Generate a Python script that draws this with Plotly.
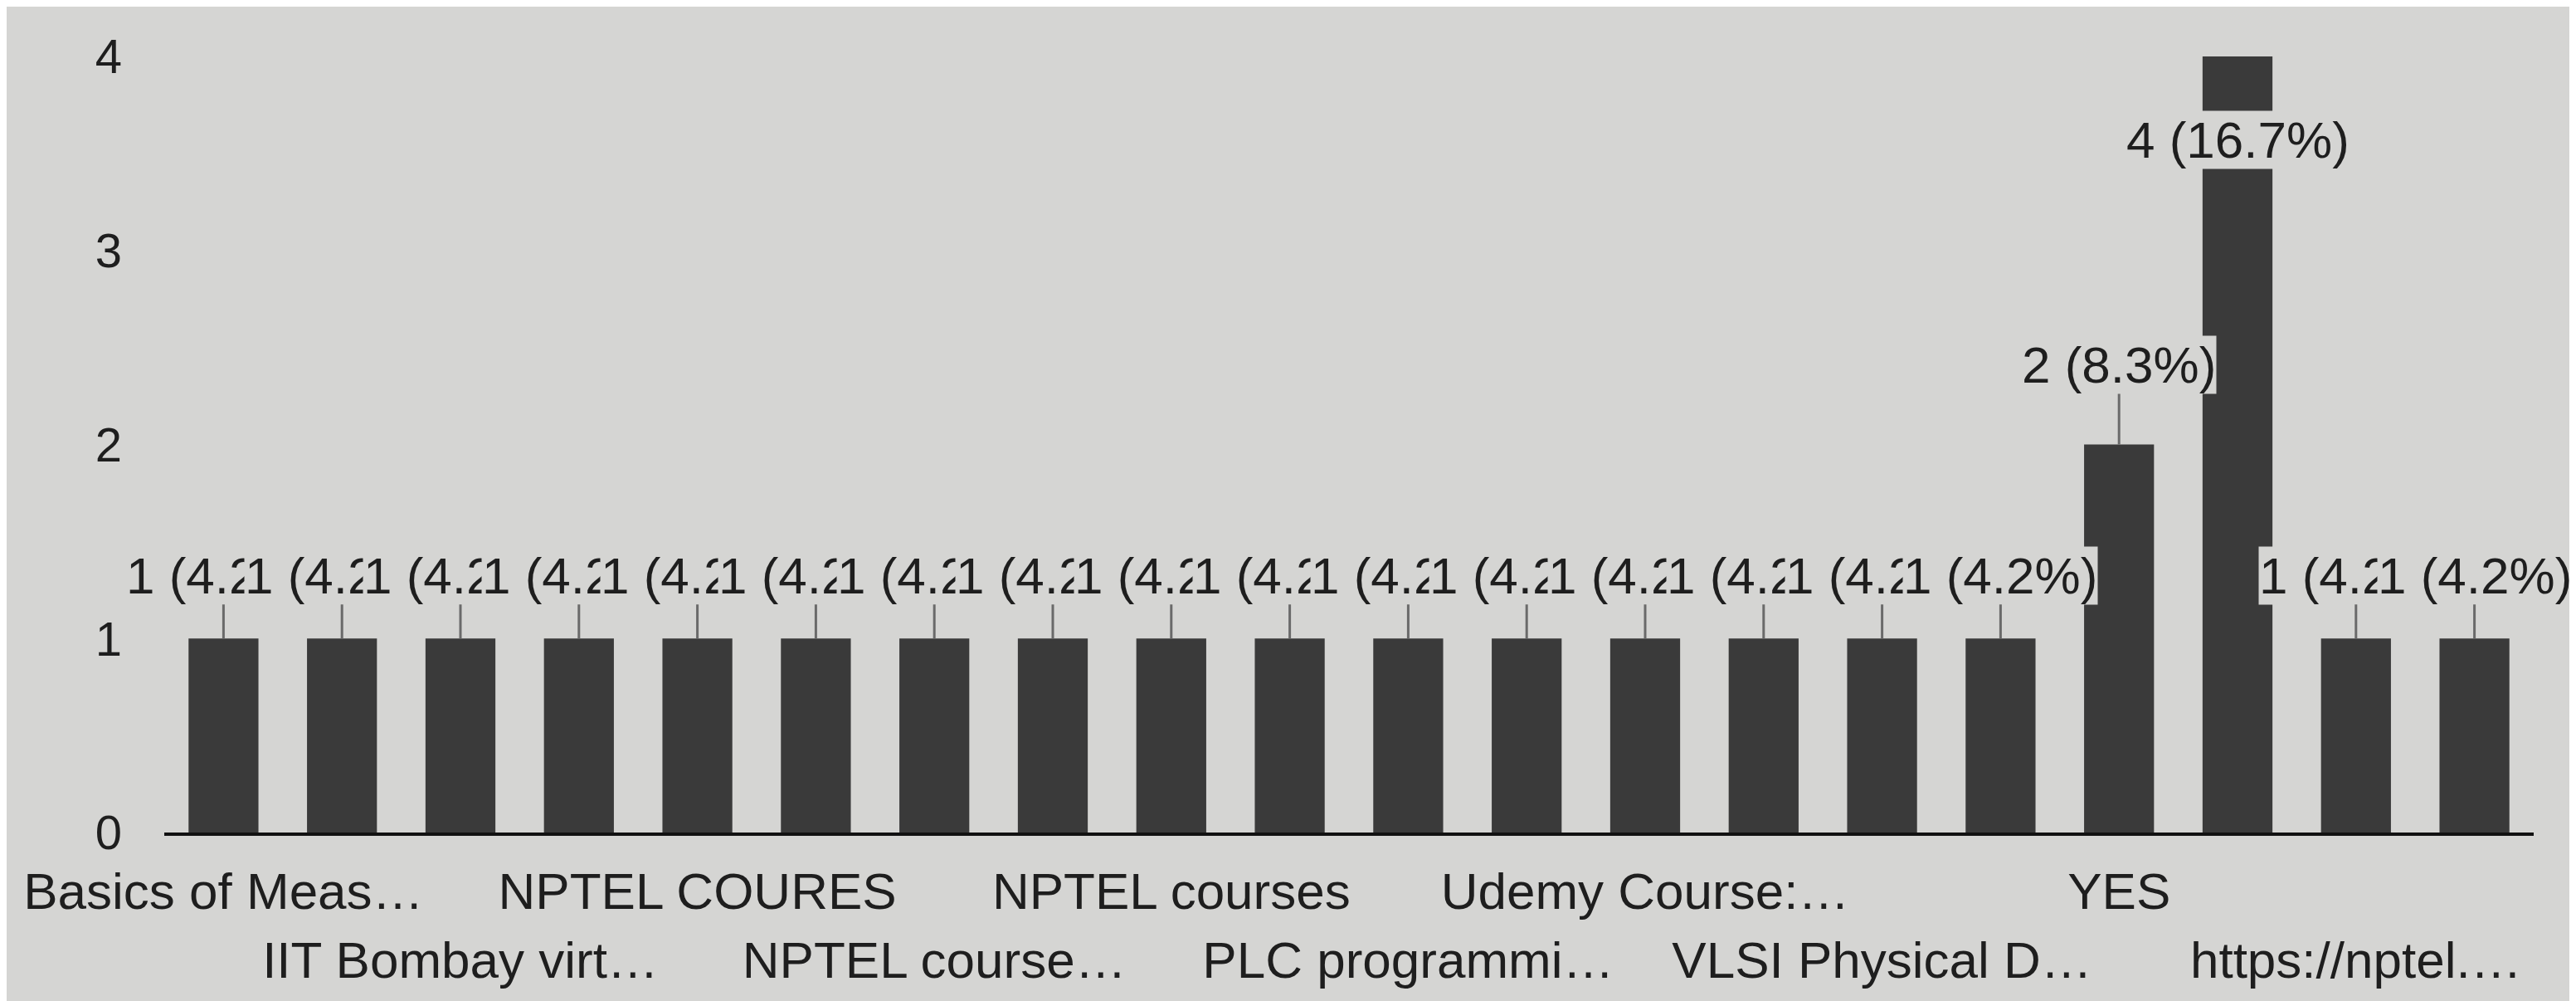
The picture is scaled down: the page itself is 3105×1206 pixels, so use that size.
import plotly.graph_objects as go

categories = [
    "Basics of Meas…", "Coursera", "IIT Bombay virt…", "Internshala",
    "NPTEL COURES", "NPTEL Course", "NPTEL course…", "NPTEL course.",
    "NPTEL courses", "Online course", "PLC programmi…", "Swayam",
    "Udemy Course:…", "Udemy course", "VLSI Physical D…", "VLSI course",
    "YES", "coursera", "https://nptel.…", "nptel",
]
counts = [1, 1, 1, 1, 1, 1, 1, 1, 1, 1, 1, 1, 1, 1, 1, 1, 2, 4, 1, 1]
shown_row1 = ["Basics of Meas…", "NPTEL COURES", "NPTEL courses", "Udemy Course:…", "YES"]
shown_row2 = ["IIT Bombay virt…", "NPTEL course…", "PLC programmi…", "VLSI Physical D…", "https://nptel.…"]
y_ticks = [0, 1, 2, 3, 4]

BG = "#d5d5d3"
BAR = "#3a3a3a"
TXT = "#1e1e1e"
FONT = "Liberation Sans, Arial, sans-serif"
FS = 62

total = sum(counts)
labels = [f"{c} ({c / total * 100:.1f}%)" for c in counts]

fig = go.Figure()
fig.add_trace(go.Bar(x=categories, y=counts, marker=dict(color=BAR, line=dict(width=0)),
                     hoverinfo="skip", showlegend=False))
# invisible helper trace for second row of tick labels
fig.add_trace(go.Scatter(x=categories, y=counts, xaxis="x2", yaxis="y", mode="markers",
                         marker=dict(opacity=0), hoverinfo="skip", showlegend=False))

annotations = []
for cat, c, lab in zip(categories, counts, labels):
    if c == max(counts):
        ay, col = 100, "#b8b8b8"
    elif c == 2:
        ay, col = -96, "#6a6a6a"
    else:
        ay, col = -76, "#6a6a6a"
    annotations.append(dict(x=cat, y=c, xref="x", yref="y", text=lab, showarrow=True,
                            arrowhead=0, arrowwidth=3, arrowcolor=col, ax=0, ay=ay,
                            font=dict(family=FONT, size=FS, color=TXT), bgcolor=BG, borderpad=0))

fig.update_layout(
    width=3105, height=1206,
    margin=dict(l=190, r=59, t=60, b=211),
    paper_bgcolor=BG, plot_bgcolor=BG,
    bargap=0.41,
    annotations=annotations,
    xaxis=dict(type="category", categoryorder="array", categoryarray=categories,
               range=[-0.5, len(categories) - 0.5],
               tickvals=shown_row1, ticktext=shown_row1, ticks="",
               showline=True, linecolor="#111111", linewidth=4, showgrid=False,
               tickfont=dict(family=FONT, size=FS, color=TXT), ticklabelstandoff=14),
    xaxis2=dict(type="category", categoryorder="array", categoryarray=categories,
                range=[-0.5, len(categories) - 0.5], overlaying="x", anchor="y", side="bottom",
                tickvals=shown_row2, ticktext=shown_row2, ticks="",
                showline=False, showgrid=False,
                tickfont=dict(family=FONT, size=FS, color=TXT), ticklabelstandoff=112),
    yaxis=dict(range=[0, 4], tickvals=y_ticks, showgrid=False, zeroline=False, showline=False,
               ticks="", tickfont=dict(family=FONT, size=58, color=TXT), ticklabelstandoff=50),
)

fig.write_html("out.html")
